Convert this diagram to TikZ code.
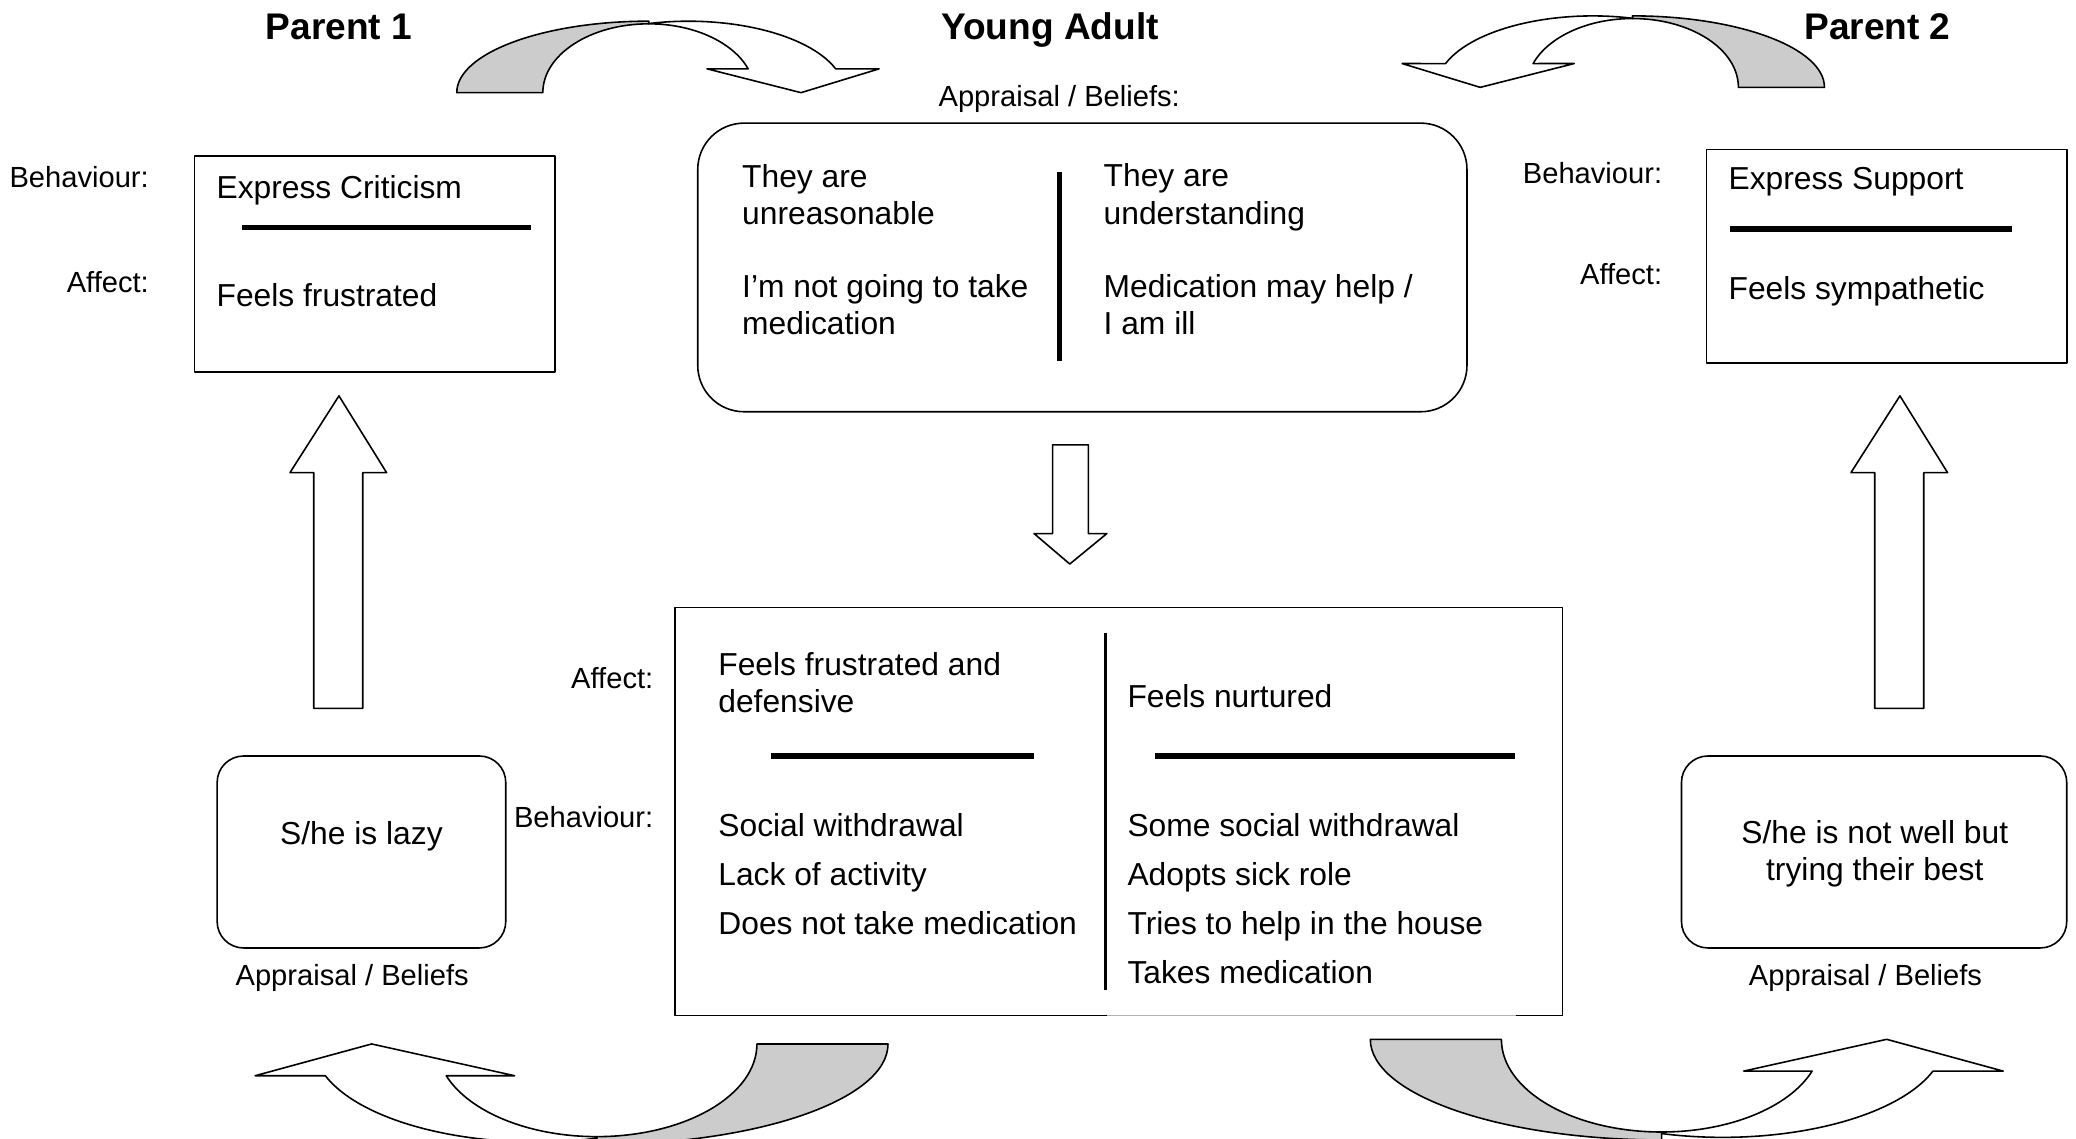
\documentclass[tikz,border=0pt]{standalone}
\usepackage{fontspec}
\setmainfont{Liberation Sans}

\begin{document}
\begin{tikzpicture}[x=1pt,y=1pt,line width=1.2pt,line join=round,
  font=\fontsize{24}{28}\selectfont,
  txt/.style={inner sep=0pt,align=left},
  lbl/.style={inner sep=0pt,font=\fontsize{22}{26}\selectfont},
  ttl/.style={inner sep=0pt,font=\fontsize{28}{32}\selectfont\bfseries},
  listing/.style={txt,font=\fontsize{24}{37}\selectfont},
  box/.style={draw,inner sep=0pt},
  rule/.style={line width=4pt},
  blockarrow/.style={draw,fill=white},
  backband/.style={draw,fill=black!20},
  frontband/.style={draw,fill=white},
  curvetop/.pic={
    \draw[backband] (-145,0) arc[start angle=180,end angle=90,x radius=145,y radius=54]
      -- (0,52) arc[start angle=90,end angle=180,x radius=80,y radius=52] -- cycle;
    \draw[frontband] (0,52.2) arc[start angle=104.7,end angle=19.5,x radius=118,y radius=54]
      -- (174,18) -- (115,0) -- (44,18) -- (20.25:80 and 52)
      arc[start angle=20.25,end angle=90,x radius=80,y radius=52] -- cycle;
  },
  curvebottom/.pic={
    \draw[backband] (-220,0) arc[start angle=180,end angle=90,x radius=220,y radius=76]
      -- (0,70) arc[start angle=90,end angle=180,x radius=121,y radius=70] -- cycle;
    \draw[frontband] (0,71.2) arc[start angle=105.9,end angle=18.9,x radius=168,y radius=74]
      -- (258,24) -- (170,0) -- (62,24) -- (20.05:121 and 70)
      arc[start angle=20.05,end angle=90,x radius=121,y radius=70] -- cycle;
  }]
  \useasboundingbox (0,0) rectangle (1568,860);

  % titles
  \node[ttl] (p1title) at (256,840) {Parent 1};
  \node[ttl] (yatitle) at (793,837) {Young Adult};
  \node[ttl] (p2title) at (1418,840) {Parent 2};

  % curved arrows
  \pic[shift={(490,790)}] (topleft) {curvetop};
  \pic[shift={(1233,794)},xscale=-1] (topright) {curvetop};
  \pic[shift={(450.7,71.5)},rotate=180] (bottomleft) {curvebottom};
  \pic[shift={(1255,75)},yscale=-1] (bottomright) {curvebottom};

  % boxes
  \node[box,minimum width=272pt,minimum height=163pt] (critbox) at (283,660.5) {};
  \node[box,rounded corners=35pt,minimum width=581pt,minimum height=218pt] (beliefbox) at (817.5,658) {};
  \node[box,minimum width=272pt,minimum height=161pt] (supportbox) at (1425,666.5) {};
  \node[box,rounded corners=20pt,minimum width=218pt,minimum height=145pt] (lazybox) at (273,216.5) {};
  \node[box,rounded corners=20pt,minimum width=291pt,minimum height=145pt] (wellbox) at (1415.5,216.5) {};
  \node[box,minimum width=670pt,minimum height=308pt] (reactbox) at (845,247) {};
  \draw[gray!60] (836,93) -- (1145,93);

  % Parent 1
  \node[lbl,anchor=east] (p1beh) at (113,726) {Behaviour:};
  \node[lbl,anchor=east] (p1aff) at (113,647) {Affect:};
  \node[txt,anchor=west] (crit) at (163,716) {Express Criticism};
  \draw[rule] (183,688) -- (401,688);
  \node[txt,anchor=west] (frust) at (163,637) {Feels frustrated};

  % Young Adult beliefs
  \node[lbl] (yabel) at (800,785) {Appraisal / Beliefs:};
  \node[txt,anchor=west] (unreas) at (560,713) {They are\\unreasonable};
  \node[txt,anchor=west] (nomed) at (560,630) {I’m not going to take\\medication};
  \draw[rule] (800,730) -- (800,587);
  \node[txt,anchor=west] (underst) at (833,711) {They are\\understanding};
  \node[txt,anchor=west] (medhelp) at (833,630) {Medication may help /\\I am ill};

  % Parent 2
  \node[lbl,anchor=east] (p2beh) at (1256,729) {Behaviour:};
  \node[lbl,anchor=east] (p2aff) at (1256,653) {Affect:};
  \node[txt,anchor=west] (supp) at (1305,723) {Express Support};
  \draw[rule] (1307,687) -- (1520,687);
  \node[txt,anchor=west] (symp) at (1305,640) {Feels sympathetic};

  % parents' appraisals
  \node[txt] (lazy) at (273,228) {S/he is lazy};
  \node[lbl] (p1bel) at (266,121) {Appraisal / Beliefs};
  \node[txt,align=center] (notwell) at (1416,215) {S/he is not well but\\trying their best};
  \node[lbl] (p2bel) at (1409,121) {Appraisal / Beliefs};

  % Young Adult reaction
  \node[lbl,anchor=east] (yaaff) at (494,348) {Affect:};
  \node[lbl,anchor=east] (yabeh) at (494,243) {Behaviour:};
  \node[txt,anchor=west] (defens) at (542,344.5) {Feels frustrated and\\defensive};
  \draw[rule] (582,289) -- (781,289);
  \node[listing,anchor=west] (withdraw) at (542,200) {Social withdrawal\\Lack of activity\\Does not take medication};
  \draw[line width=2pt] (835,382) -- (835,112);
  \node[txt,anchor=west] (nurt) at (851,334) {Feels nurtured};
  \draw[rule] (872,289) -- (1144,289);
  \node[listing,anchor=west] (sickrole) at (851,181) {Some social withdrawal\\Adopts sick role\\Tries to help in the house\\Takes medication};

  % block arrows
  \draw[blockarrow] (795,524) -- (822,524) -- (822,457) -- (836,457) -- (808,434)
    -- (781,457) -- (795,457) -- cycle;
  \draw[blockarrow] (237,325) -- (274,325) -- (274,503) -- (292,503) -- (256,561)
    -- (219,503) -- (237,503) -- cycle;
  \draw[blockarrow] (1416,325) -- (1453,325) -- (1453,503) -- (1471,503) -- (1435,561)
    -- (1398,503) -- (1416,503) -- cycle;
\end{tikzpicture}
\end{document}
